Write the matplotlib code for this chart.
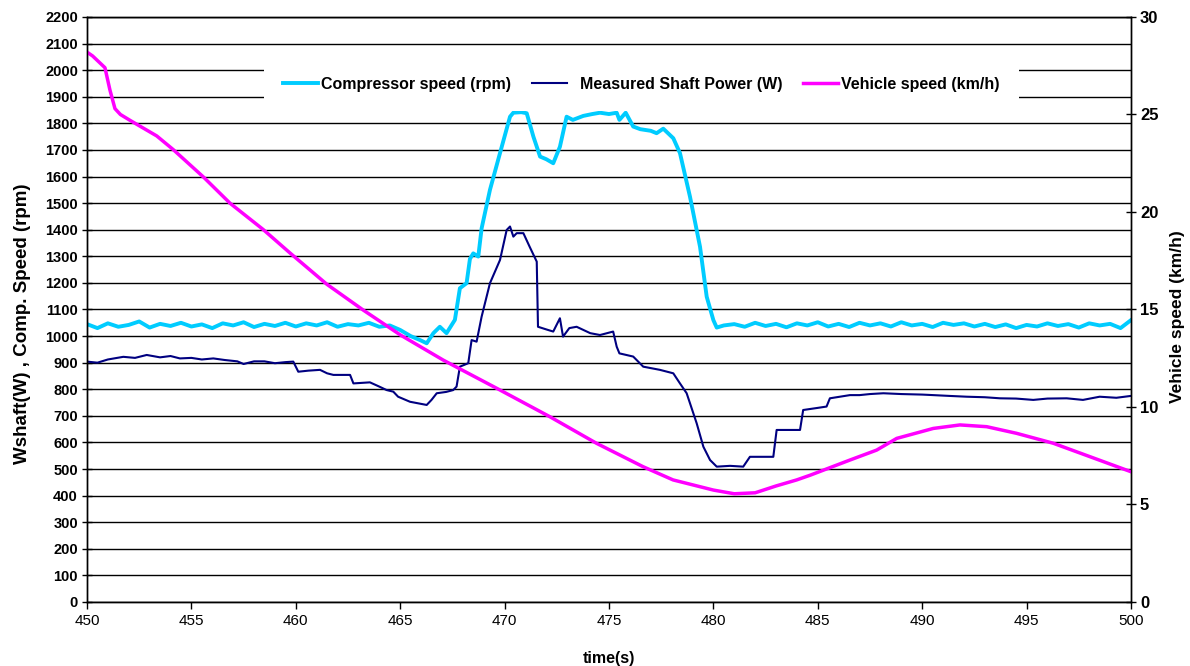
import matplotlib
matplotlib.use("Agg")
import matplotlib.pyplot as plt

# compressor speed (rpm)
comp_t = [450, 450.5, 451, 451.5, 452, 452.5, 453, 453.5, 454, 454.5, 455, 455.5,
          456, 456.5, 457, 457.5, 458, 458.5, 459, 459.5, 460, 460.5, 461, 461.5,
          462, 462.5, 463, 463.5, 464, 464.5, 465, 465.5, 465.95, 466.27, 466.59,
          466.9, 467.22, 467.62, 467.86, 468.18, 468.34, 468.5, 468.74, 468.9,
          469.3, 469.78, 470.26, 470.42, 470.8, 471.06, 471.38, 471.7, 472.0,
          472.33, 472.65, 472.97, 473.27, 473.77, 474.2, 474.57, 475.0, 475.37,
          475.5, 475.8, 476.16, 476.5, 477.0, 477.28, 477.6, 478.08, 478.4,
          478.88, 479.36, 479.68, 480.0, 480.16, 480.5, 481, 481.5, 482, 482.5,
          483, 483.5, 484, 484.5, 485, 485.5, 486, 486.5, 487, 487.5, 488, 488.5,
          489, 489.5, 490, 490.5, 491, 491.5, 492, 492.5, 493, 493.5, 494, 494.5,
          495, 495.5, 496, 496.5, 497, 497.5, 498, 498.5, 499, 499.5, 500]
comp_rpm = [1045, 1030, 1048, 1035, 1042, 1055, 1032, 1046, 1038, 1050, 1036, 1044,
            1030, 1048, 1040, 1052, 1034, 1046, 1038, 1050, 1036, 1048, 1040, 1052,
            1035, 1045, 1040, 1050, 1035, 1040, 1023, 1000, 985, 973, 1011,
            1035, 1011, 1061, 1180, 1199, 1290, 1311, 1299, 1405,
            1550, 1688, 1825, 1840, 1842, 1838, 1750, 1675, 1665,
            1650, 1712, 1825, 1813, 1828, 1835, 1840, 1835, 1840,
            1813, 1840, 1788, 1778, 1772, 1763, 1780, 1744, 1688,
            1524, 1336, 1148, 1060, 1032, 1040, 1045, 1035, 1050, 1038,
            1046, 1033, 1048, 1040, 1052, 1036, 1046, 1034, 1050, 1040, 1048, 1036,
            1052, 1040, 1046, 1034, 1050, 1042, 1048, 1036, 1046, 1034, 1044, 1030,
            1042, 1036, 1048, 1038, 1045, 1032, 1048, 1040, 1046, 1030, 1060]

# measured shaft power (W)
shaft_t = [450, 450.5, 451, 451.74, 452.3, 452.86, 453.5, 454, 454.45, 455, 455.5,
           456.05, 456.6, 457.2, 457.5, 457.65, 458, 458.5, 459, 459.5, 459.88,
           460.12, 460.6, 461.16, 461.5, 461.8, 462.6, 462.76, 463.55, 464, 464.35,
           464.67, 464.9, 465.47, 466.27, 466.5, 466.75, 467.2, 467.54, 467.7,
           467.86, 468.26, 468.42, 468.66, 468.9, 469.3, 469.78, 470.1, 470.26,
           470.42, 470.58, 470.9, 471.2, 471.54, 471.6, 472.0, 472.33, 472.65,
           472.8, 473.1, 473.45, 474.1, 474.57, 475.2, 475.37, 475.5, 476.16,
           476.64, 477.44, 478.08, 478.4, 478.72, 479.2, 479.52, 479.84, 480.16,
           480.8, 481.43, 481.75, 482.87, 483.03, 484.15, 484.3, 485.0, 485.42,
           485.58, 486.54, 487.0, 487.5, 488.14, 489, 490, 490.53, 491.3, 492.13,
           493, 493.73, 494.5, 495.32, 496, 496.92, 497.7, 498.5, 499.3, 500]
shaft_w = [904, 900, 912, 922, 918, 929, 920, 925, 916, 918, 912,
           916, 910, 905, 895, 898, 905, 905, 898, 902, 904,
           866, 870, 873, 860, 854, 854, 822, 826, 810, 797,
           791, 772, 753, 741, 760, 785, 790, 797, 810,
           885, 898, 985, 979, 1073, 1199, 1286, 1399, 1412,
           1374, 1387, 1387, 1336, 1280, 1035, 1025, 1017, 1067,
           998, 1030, 1035, 1011, 1004, 1017, 960, 935, 923,
           885, 873, 860, 822, 785, 672, 584, 534, 509,
           512, 509, 546, 546, 647, 647, 722, 730, 735,
           766, 778, 778, 782, 785, 782, 780, 778, 775, 772,
           770, 766, 765, 760, 765, 766, 760, 772, 768, 775]

# vehicle speed (km/h), right axis
veh_t = [450, 450.27, 450.86, 451.1, 451.34, 451.6, 452.06, 453.34, 454.13, 455.57,
         456.85, 458.44, 459.72, 461.48, 463.23, 465.0, 467.07, 469.78, 472.17,
         474.4, 476.63, 478.07, 480.0, 481.0, 482.0, 483.0, 483.99, 484.63, 486.54,
         487.82, 488.78, 490.53, 491.81, 493.09, 494.52, 496.28, 498.04, 500]
veh_kmh = [28.2, 28.0, 27.4, 26.25, 25.3, 25.0, 24.7, 23.9, 23.2, 21.8,
           20.45, 19.1, 17.9, 16.3, 14.97, 13.7, 12.4, 10.87, 9.5,
           8.14, 6.94, 6.26, 5.74, 5.55, 5.6, 5.95, 6.26, 6.5, 7.28,
           7.79, 8.39, 8.9, 9.08, 8.99, 8.65, 8.14, 7.45, 6.68]

x_ticks = list(range(450, 501, 5))
left_ticks = list(range(0, 2201, 100))
right_ticks = list(range(0, 31, 5))

plt.rcParams['font.family'] = ['Liberation Sans', 'DejaVu Sans']

fig = plt.figure(figsize=(11.9, 6.66), dpi=100)
ax = fig.add_axes([0.0731, 0.0961, 0.8773, 0.8784])
ax2 = ax.twinx()

ax.plot(comp_t, comp_rpm, color='#00CCFF', lw=2.8, label='Compressor speed (rpm)')
ax.plot(shaft_t, shaft_w, color='#000080', lw=1.5, label='  Measured Shaft Power (W)')
ax2.plot(veh_t, veh_kmh, color='#FF00FF', lw=2.5, label='Vehicle speed (km/h)')

ax.set_xlim(450, 500)
ax.set_ylim(0, 2200)
ax2.set_ylim(0, 30)
ax.set_xticks(x_ticks)
ax.set_yticks(left_ticks)
ax2.set_yticks(right_ticks)

ax.yaxis.grid(True, color='black', lw=1)
ax.set_axisbelow(True)

for a in (ax, ax2):
    for s in a.spines.values():
        s.set_color('black')
        s.set_linewidth(1)

ax.tick_params(axis='y', direction='inout', length=7, width=1, pad=3,
               labelsize=10.5)
ax.tick_params(axis='x', direction='out', length=5, width=1, pad=4,
               labelsize=11)
ax2.tick_params(axis='y', direction='inout', length=7, width=1, pad=3,
                labelsize=12)
for lab in ax.get_yticklabels() + ax2.get_yticklabels():
    lab.set_fontweight('bold')

ax.set_xlabel('time(s)', fontsize=11.5, fontweight='bold')
ax.xaxis.set_label_coords(0.5, -0.083)
ax.set_ylabel('Wshaft(W) , Comp. Speed (rpm)', fontsize=13.5, fontweight='bold')
ax.yaxis.set_label_coords(-0.054, 0.476)
ax2.set_ylabel('Vehicle speed (km/h)', fontsize=12.5, fontweight='bold')
ax2.yaxis.set_label_coords(1.037, 0.487)

h1, l1 = ax.get_legend_handles_labels()
h2, l2 = ax2.get_legend_handles_labels()
leg = ax2.legend(h1 + h2, l1 + l2, loc='center', bbox_to_anchor=(0.531, 0.885),
                 ncol=3, frameon=True, fancybox=False, framealpha=1,
                 facecolor='white', edgecolor='none', handlelength=2.2,
                 handletextpad=0.2, columnspacing=1.3, borderpad=0.4,
                 borderaxespad=0, prop={'size': 11.5, 'weight': 'bold'})
leg.get_frame().set_boxstyle('square', pad=0.8)

fig.savefig('out.png', dpi=100)
